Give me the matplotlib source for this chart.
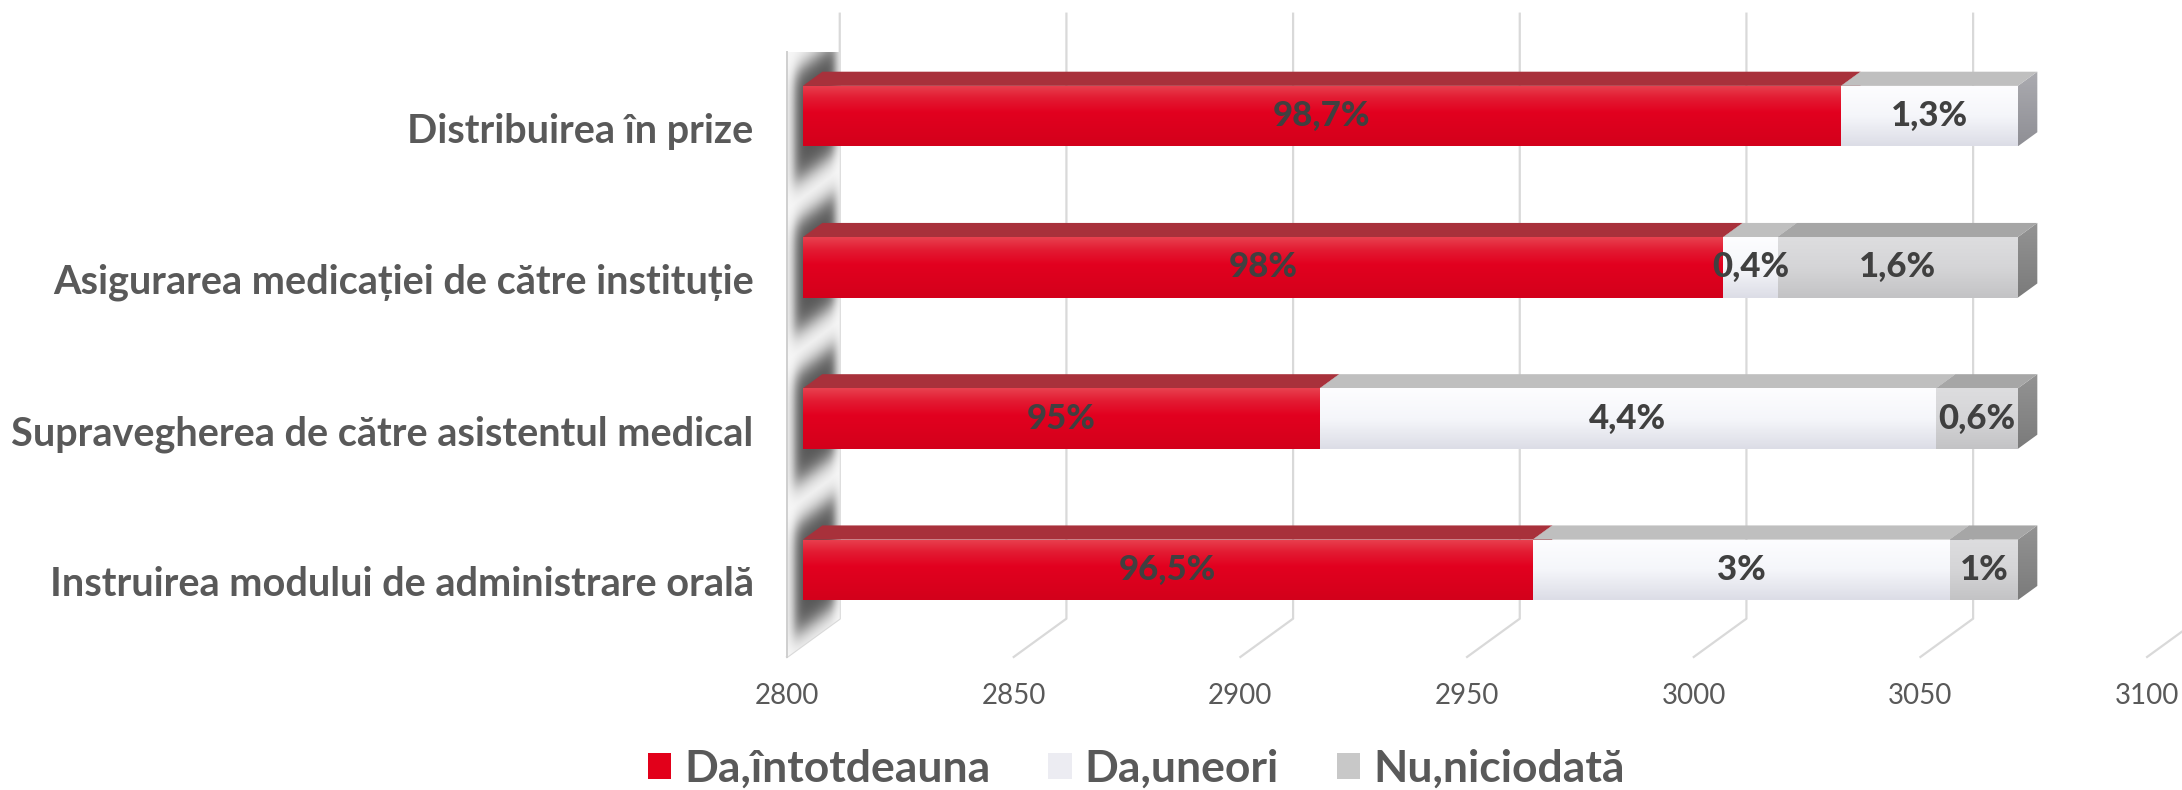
import numpy as np
import matplotlib
matplotlib.use('Agg')
import matplotlib.pyplot as plt
from matplotlib.patches import Polygon, Patch
from matplotlib.colors import to_rgb

plt.rcParams['font.family'] = ['Lato', 'DejaVu Sans']

# categories from bottom to top
categories = ['Instruirea modului de administrare orală',
              'Supravegherea de către asistentul medical',
              'Asigurarea medicației de către instituție',
              'Distribuirea în prize']
series = ['Da,întotdeauna', 'Da,uneori', 'Nu,niciodată']
# stacked counts (axis starts at 2800, so the red bar is cut at the wall)
intotdeauna = [2961, 2914, 3003, 3029]
uneori = [92, 136, 12, 39]
niciodata = [15, 18, 53, 0]
lab_intotdeauna = ['96,5%', '95%', '98%', '98,7%']
lab_uneori = ['3%', '4,4%', '0,4%', '1,3%']
lab_niciodata = ['1%', '0,6%', '1,6%', '']
ticks = [2800, 2850, 2900, 2950, 3000, 3050, 3100]
XMIN, XMAX = 2800, 3100

styles = [
    dict(front=[(0, '#e8414f'), (0.2, '#e31c33'), (0.45, '#e2001f'), (1, '#d3001b')],
         top='#a8313b', side=[(0, '#b02a35'), (1, '#8e1c26')]),
    dict(front=[(0, '#fdfdff'), (0.5, '#f5f6fa'), (1, '#dcdde6')],
         top='#bfbfbf', side=[(0, '#ababb0'), (1, '#8f8f95')]),
    dict(front=[(0, '#dddddf'), (0.5, '#d5d5d7'), (1, '#c3c3c5')],
         top='#a6a6a6', side=[(0, '#939393'), (1, '#7b7b7b')]),
]
legend_colors = ['#e2001a', '#ececf2', '#c8c8c8']

fig = plt.figure(figsize=(21.82, 7.90), dpi=100)
ax = fig.add_axes([0.3607, 0.1684, 0.6233, 0.7658])
ax.set_xlim(XMIN, XMAX)
ax.set_ylim(-0.5, len(categories) - 0.5)
for s in ax.spines.values():
    s.set_visible(False)
ax.patch.set_visible(False)

# oblique depth vector, pixels -> data units
W = 0.6233 * 2182
H = 0.7658 * 790
ddx = 52.7 / (W / (XMAX - XMIN))
ddy = 38.3 / (H / len(categories))
d0, d1 = 0.30, 0.67   # bar depth inside the box
hh = 0.2              # half bar height


def vgrad(stops, n=64):
    pos = [p for p, _ in stops]
    cols = np.array([to_rgb(c) for _, c in stops])
    t = np.linspace(0, 1, n)
    arr = np.stack([np.interp(t, pos, cols[:, i]) for i in range(3)], axis=-1)
    return arr[:, None, :]


def grad_poly(pts, stops, z):
    pts = np.asarray(pts)
    x0, y0 = pts.min(0)
    x1, y1 = pts.max(0)
    im = ax.imshow(vgrad(stops), extent=(x0, x1, y0, y1), origin='upper',
                   aspect='auto', interpolation='bilinear', zorder=z)
    im.set_clip_path(Polygon(pts, closed=True, transform=ax.transData))
    im.set_clip_box(None)


def P(v, y, d):
    return (v + d * ddx, y + d * ddy)


ytop = len(categories) - 0.5
gcol = '#d9d9d9'
# gridlines: floor diagonal + back wall vertical
for v in ticks:
    xs = [v, v + ddx, v + ddx]
    ys = [-0.5, -0.5 + ddy, ytop + ddy]
    ax.plot(xs, ys, color=gcol, lw=1.6, zorder=0.5, clip_on=False)

# side wall with the shadows of the bars
nx, ny = 60, 700
wx = np.linspace(XMIN, XMIN + ddx, nx)
wy = np.linspace(-0.5, ytop + ddy, ny)
X, Y = np.meshgrid(wx, wy)
D = (X - XMIN) / ddx
C = Y - D * ddy


def sig(z):
    return 1 / (1 + np.exp(-z))


dark = np.zeros_like(C)
for k in range(len(categories)):
    u = C - k
    dark = np.maximum(dark, sig((u + 0.40) / 0.045) * sig((0.33 - u) / 0.045))
dark *= sig((D - 0.14) / 0.06) * sig((0.92 - D) / 0.05)
base, deep = 0.97, 0.33
val = base - (base - deep) * dark
img = np.dstack([val, val, val])
im = ax.imshow(img, extent=(wx[0], wx[-1], wy[0], wy[-1]), origin='lower',
               aspect='auto', interpolation='bilinear', zorder=1)
wall = [P(XMIN, -0.5, 0), P(XMIN, ytop, 0), P(XMIN, ytop, 1), P(XMIN, -0.5, 1)]
im.set_clip_path(Polygon(wall, closed=True, transform=ax.transData))
im.set_clip_box(None)
ax.plot([XMIN, XMIN], [-0.5, ytop], color='#cfcfcf', lw=1.4, zorder=1.2, clip_on=False)

# stacked 3D bars
values = [intotdeauna, uneori, niciodata]
texts = [lab_intotdeauna, lab_uneori, lab_niciodata]
for k in range(len(categories)):
    left = 0
    segs = []
    for si in range(3):
        a = left
        b = left + values[si][k]
        left = b
        if values[si][k] > 0:
            segs.append((si, max(a, XMIN), b))
    for j, (si, a, b) in enumerate(segs):
        st = styles[si]
        y0, y1 = k - hh, k + hh
        grad_poly([P(b, y0, d0), P(b, y1, d0), P(b, y1, d1), P(b, y0, d1)], st['side'], 2 + 0.01 * j)
        ax.add_patch(Polygon([P(a, y1, d0), P(b, y1, d0), P(b, y1, d1), P(a, y1, d1)],
                             closed=True, facecolor=st['top'], edgecolor='none',
                             zorder=3 + 0.01 * j, clip_on=False))
        grad_poly([P(a, y0, d0), P(b, y0, d0), P(b, y1, d0), P(a, y1, d0)], st['front'], 4 + 0.01 * j)
        t = texts[si][k]
        if t:
            tx, ty = P((a + b) / 2, k, d0)
            ax.text(tx, ty, t, ha='center', va='center', fontsize=25,
                    fontweight='black', color='#404040', zorder=10)

ax.set_xlim(XMIN, XMAX)
ax.set_ylim(-0.5, ytop)
ax.set_xticks(ticks)
ax.set_xticklabels([str(t) for t in ticks], fontsize=20, color='#595959')
ax.set_yticks(range(len(categories)))
ax.set_yticklabels(categories, fontsize=28.5, fontweight='bold', color='#595959')
ax.tick_params(axis='x', length=0, pad=19)
ax.tick_params(axis='y', length=0, pad=24)

handles = [Patch(facecolor=c, edgecolor='none') for c in legend_colors]
fig.legend(handles, series, loc='center', bbox_to_anchor=(0.5208, 0.027), ncol=3,
           frameon=False, prop=dict(family='Lato', weight='bold', size=32),
           labelcolor='#595959', handlelength=0.52, handleheight=0.52,
           handletextpad=0.3, columnspacing=1.3)

fig.savefig('out.png', dpi=100, facecolor='white')
